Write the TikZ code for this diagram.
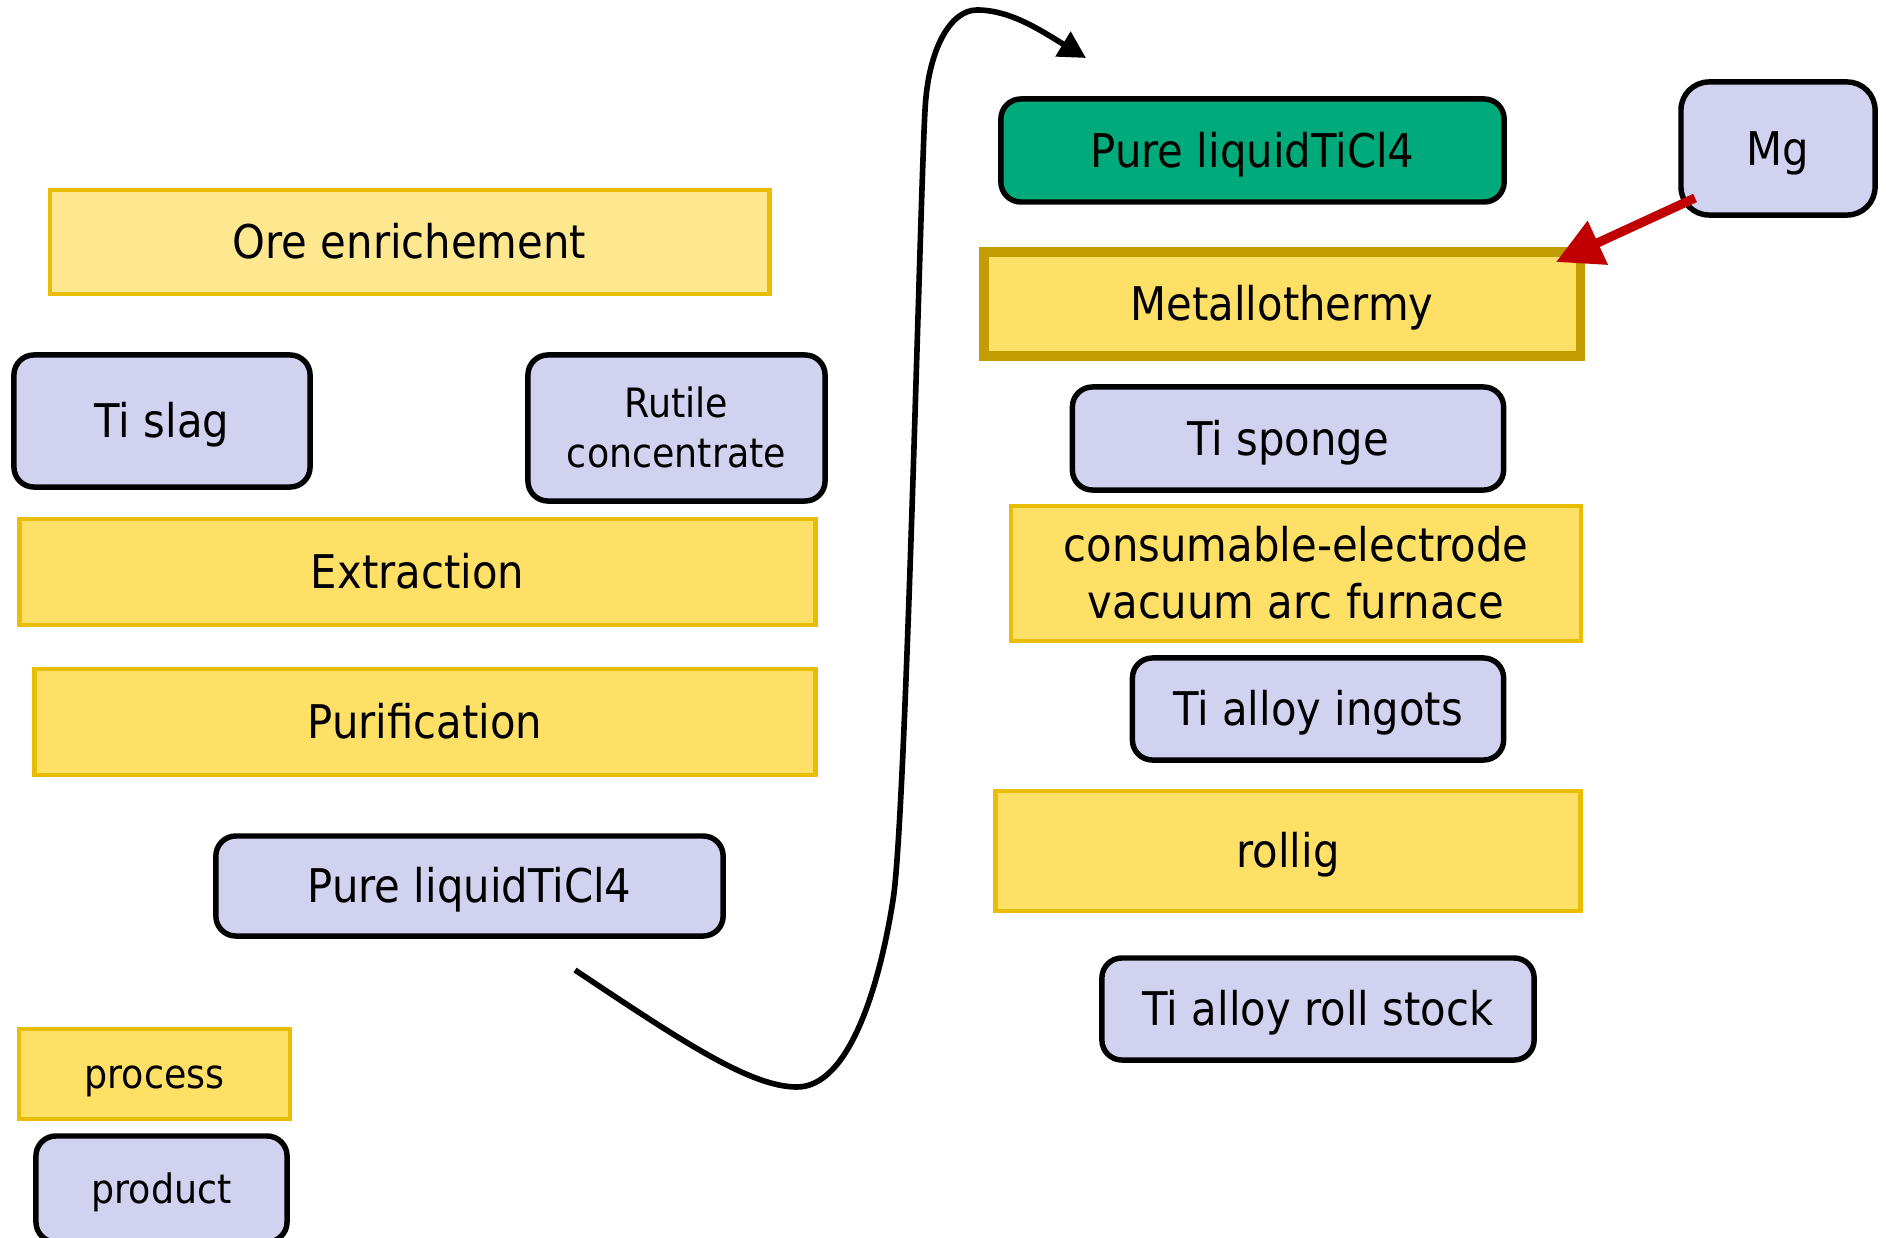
\documentclass[tikz,border=0pt]{standalone}
\usepackage{fontspec}
\setmainfont{DejaVu Sans}[FakeStretch=0.9]
\usetikzlibrary{arrows.meta}
\definecolor{procfill}{HTML}{FFE066}
\definecolor{orefill}{HTML}{FDE78F}
\definecolor{procline}{HTML}{E8BD04}
\definecolor{metline}{HTML}{C29C00}
\definecolor{prodfill}{HTML}{D1D2EF}
\definecolor{greenfill}{HTML}{00AA7B}
\definecolor{redarrow}{HTML}{C00000}
\begin{document}
\begin{tikzpicture}[x=0.01cm,y=-0.01cm,
  bigfont/.style={font=\fontsize{13.2pt}{16.2pt}\selectfont, text height=0.336cm, text depth=0pt},
  smallfont/.style={font=\fontsize{11.5pt}{14.2pt}\selectfont, text height=0.296cm, text depth=0pt},
  proc/.style={draw=procline, line width=1.3pt, fill=procfill, inner sep=0pt, align=center},
  prod/.style={draw=black, line width=1.55pt, fill=prodfill, rounded corners=0.2cm, inner sep=0pt, align=center},
  flow/.style={draw=black, line width=1.6pt, -{Triangle[length=0.27cm,width=0.28cm]}},
  feed/.style={draw=redarrow, line width=2.6pt, -{Triangle[length=0.46cm,width=0.46cm]}}
]
\useasboundingbox (0,0) rectangle (1886,1237);

% left column
\node[proc, bigfont, fill=orefill, minimum width=7.19cm, minimum height=1.04cm] (ore) at (409.5,242) {Ore enrichement};
\node[prod, bigfont, minimum width=2.96cm, minimum height=1.32cm] (slag) at (162,421) {Ti slag};
\node[prod, smallfont, text height=0.796cm, minimum width=2.97cm, minimum height=1.46cm] (rutile) at (676.5,428) {Rutile\\concentrate};
\node[proc, bigfont, minimum width=7.95cm, minimum height=1.06cm] (extr) at (417.5,572) {Extraction};
\node[proc, bigfont, minimum width=7.80cm, minimum height=1.06cm] (puri) at (425,722) {Purification};
\node[prod, bigfont, minimum width=5.07cm, minimum height=1.00cm] (pureL) at (469.5,886) {Pure liquidTiCl4};
\node[proc, smallfont, minimum width=2.71cm, minimum height=0.90cm] (legproc) at (154.5,1074) {process};
\node[prod, smallfont, minimum width=2.51cm, minimum height=1.06cm] (legprod) at (161.5,1189) {product};

% right column
\node[prod, bigfont, fill=greenfill, minimum width=5.03cm, minimum height=1.03cm] (pureR) at (1252.5,150.5) {Pure liquidTiCl4};
\node[prod, bigfont, rounded corners=0.28cm, minimum width=1.94cm, minimum height=1.33cm] (mg) at (1778,148.5) {Mg};
\node[proc, bigfont, draw=metline, line width=2.65pt, minimum width=5.96cm, minimum height=1.04cm] (metal) at (1282,304) {Metallothermy};
\node[prod, bigfont, minimum width=4.31cm, minimum height=1.03cm] (sponge) at (1288,438.5) {Ti sponge};
\node[proc, bigfont, text height=0.906cm, minimum width=5.70cm, minimum height=1.35cm] (vaf) at (1296,573.5) {consumable-electrode\\vacuum arc furnace};
\node[prod, bigfont, minimum width=3.71cm, minimum height=1.02cm] (ingot) at (1318,709) {Ti alloy ingots};
\node[proc, bigfont, minimum width=5.85cm, minimum height=1.20cm] (roll) at (1288,851) {rollig};
\node[prod, bigfont, minimum width=4.32cm, minimum height=1.02cm] (stock) at (1318,1009) {Ti alloy roll stock};

% connectors
\coordinate (curvestart) at (575,970);
\coordinate (curveend) at (1086,58);
\draw[flow] (curvestart) .. controls (680,1040) and (750,1087) .. (797,1087)
  .. controls (850,1087) and (880,983) .. (893,900)
  .. controls (906,820) and (920,200) .. (925,110)
  .. controls (928,50) and (950,10) .. (977,10)
  .. controls (1010,10) and (1040,30) .. (curveend);

\coordinate (mgtail) at (1695,198);
\coordinate (mettip) at (1556,262);
\draw[feed] (mgtail) -- (mettip);
\end{tikzpicture}
\end{document}
